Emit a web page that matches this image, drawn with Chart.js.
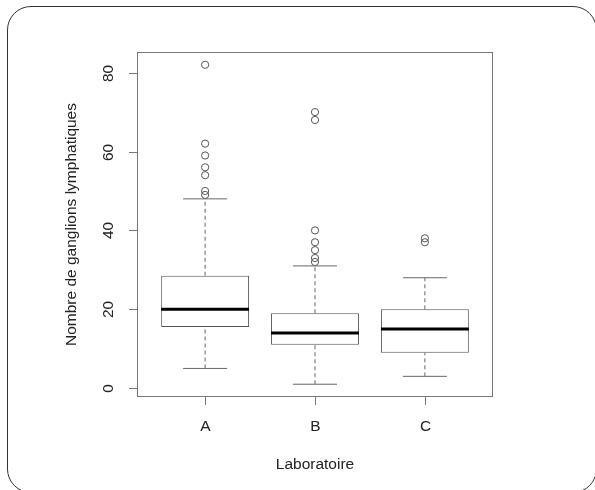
<!DOCTYPE html>
<html><head><meta charset="utf-8">
<script src="https://cdn.jsdelivr.net/npm/chart.js@4.4.0/dist/chart.umd.min.js"></script>
<style>
html,body{margin:0;padding:0;background:#fff;}
#wrap{position:relative;width:595px;height:490px;overflow:hidden;background:#fff;}
#frame{position:absolute;left:7px;top:6px;width:590px;height:487px;border:1.5px solid #333;border-radius:24px;pointer-events:none;box-sizing:border-box;}
canvas{position:absolute;left:0;top:0;}
</style></head><body>
<div id="wrap"><canvas id="c" width="595" height="490"></canvas><div id="frame"></div></div>
<script>
// ---- data ----
const categories = ['A', 'B', 'C'];
const lowerWhisker = [5, 1, 3];
const q1 = [15.5, 11, 9];
const median = [20, 14, 15];
const q3 = [28.5, 19, 20];
const upperWhisker = [48, 31, 28];
const outliersA = [82, 62, 59, 56, 54, 50, 49];
const outliersB = [70, 68, 40, 37, 35, 33, 32];
const outliersC = [38, 37];
const yTicks = [0, 20, 40, 60, 80];
const yTitle = 'Nombre de ganglions lymphatiques';
const xTitle = 'Laboratoire';

// ---- build datasets ----
const outliers = [outliersA, outliersB, outliersC];
const FONT = '15.5px "Liberation Sans", Arial, Helvetica, sans-serif';
const TXT = '#222';
const datasets = [];

categories.forEach((c, i) => {
  const x = i + 1;
  datasets.push({ type: 'line', order: 0, data: [{x: x - 0.4, y: median[i]}, {x: x + 0.4, y: median[i]}],
    borderColor: '#000', borderWidth: 3, pointRadius: 0, fill: false, borderCapStyle: 'butt' });
  datasets.push({ type: 'line', order: 2, data: [{x: x, y: q3[i]}, {x: x, y: upperWhisker[i]}],
    borderColor: '#666', borderWidth: 1, borderDash: [4, 3], pointRadius: 0, fill: false });
  datasets.push({ type: 'line', order: 2, data: [{x: x, y: lowerWhisker[i]}, {x: x, y: q1[i]}],
    borderColor: '#666', borderWidth: 1, borderDash: [4, 3], pointRadius: 0, fill: false });
  datasets.push({ type: 'line', order: 2, data: [{x: x - 0.2, y: upperWhisker[i]}, {x: x + 0.2, y: upperWhisker[i]}],
    borderColor: '#666', borderWidth: 1, pointRadius: 0, fill: false });
  datasets.push({ type: 'line', order: 2, data: [{x: x - 0.2, y: lowerWhisker[i]}, {x: x + 0.2, y: lowerWhisker[i]}],
    borderColor: '#666', borderWidth: 1, pointRadius: 0, fill: false });
});

datasets.push({
  type: 'bar', order: 1,
  data: categories.map((c, i) => ({x: i + 1, y: [q1[i], q3[i]]})),
  backgroundColor: '#fff', borderColor: '#555', borderWidth: 1, borderSkipped: false,
  barPercentage: 0.8, categoryPercentage: 1.0
});

datasets.push({
  type: 'scatter', order: 3,
  data: outliers.flatMap((arr, i) => arr.map(v => ({x: i + 1, y: v}))),
  pointStyle: 'circle', pointRadius: 3.6, pointBorderWidth: 1,
  pointBackgroundColor: 'rgba(0,0,0,0)', pointBorderColor: '#555'
});

// ---- R-style axes plugin ----
const rAxes = {
  id: 'rAxes',
  afterDraw(chart) {
    const {ctx, chartArea: a, scales: {x, y}} = chart;
    ctx.save();
    ctx.strokeStyle = '#777';
    ctx.lineWidth = 1;
    ctx.strokeRect(Math.round(a.left) + 0.5, Math.round(a.top) + 0.5,
      Math.round(a.right - a.left) - 1, Math.round(a.bottom - a.top) - 1);
    ctx.font = FONT;
    ctx.fillStyle = TXT;
    // y ticks
    yTicks.forEach(v => {
      const py = Math.round(y.getPixelForValue(v)) + 0.5;
      ctx.beginPath();
      ctx.moveTo(a.left - 8, py);
      ctx.lineTo(a.left, py);
      ctx.stroke();
      ctx.save();
      ctx.translate(a.left - 28, py);
      ctx.rotate(-Math.PI / 2);
      ctx.textAlign = 'center';
      ctx.textBaseline = 'middle';
      ctx.fillText(String(v), 0, 0);
      ctx.restore();
    });
    // x ticks
    categories.forEach((c, i) => {
      const px = Math.round(x.getPixelForValue(i + 1)) + 0.5;
      ctx.beginPath();
      ctx.moveTo(px, a.bottom);
      ctx.lineTo(px, a.bottom + 8);
      ctx.stroke();
      ctx.textAlign = 'center';
      ctx.textBaseline = 'middle';
      ctx.fillText(c, px, a.bottom + 30);
    });
    // titles
    ctx.textAlign = 'center';
    ctx.textBaseline = 'middle';
    ctx.fillText(xTitle, (a.left + a.right) / 2, a.bottom + 68);
    ctx.save();
    ctx.translate(a.left - 65, (a.top + a.bottom) / 2);
    ctx.rotate(-Math.PI / 2);
    ctx.fillText(yTitle, 0, 0);
    ctx.restore();
    ctx.restore();
  }
};

new Chart(document.getElementById('c'), {
  type: 'bar',
  data: { datasets },
  options: {
    responsive: false,
    animation: false,
    devicePixelRatio: 1,
    layout: { padding: { left: 137, right: 102, top: 52, bottom: 93 } },
    scales: {
      x: { type: 'linear', min: 0.38, max: 3.62, offset: false, display: false,
           afterBuildTicks: (scale) => { scale.ticks = categories.map((c, i) => ({ value: i + 1 })); } },
      y: { type: 'linear', min: -2.24, max: 85.24, display: false }
    },
    plugins: { legend: { display: false }, tooltip: { enabled: false } }
  },
  plugins: [rAxes]
});
</script>
</body></html>
